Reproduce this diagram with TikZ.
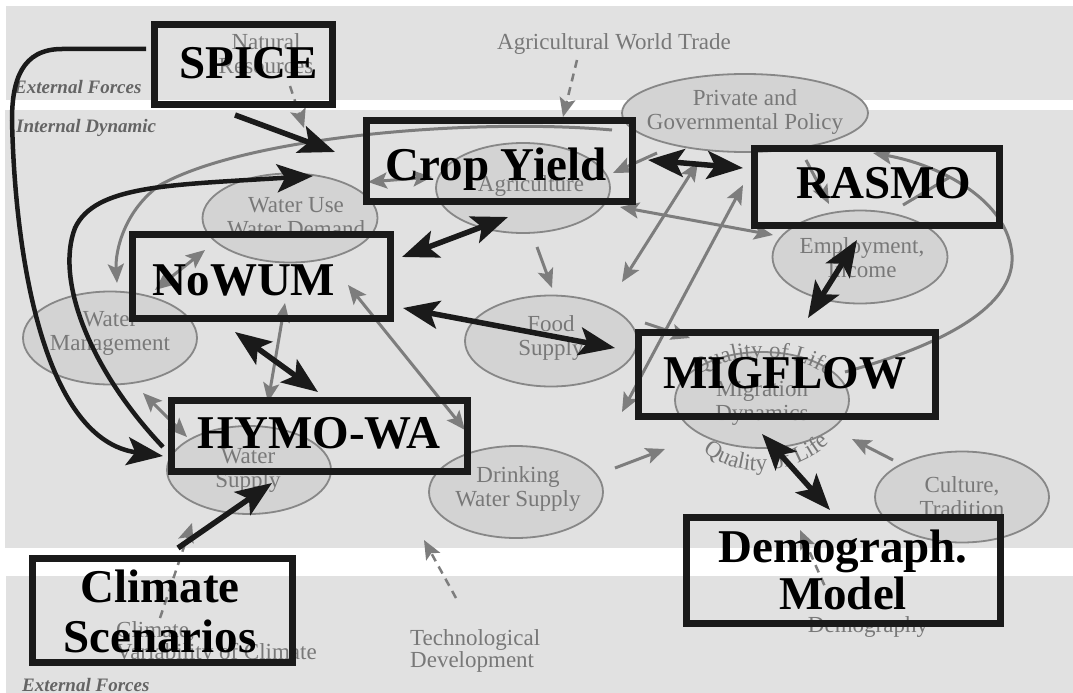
\documentclass[tikz,border=0pt]{standalone}
\usepackage{fontspec}
\setmainfont{Liberation Serif}
\usetikzlibrary{arrows.meta,shapes.geometric,decorations.text}
\definecolor{bandgray}{RGB}{225,225,225}
\definecolor{ellfill}{RGB}{211,211,211}
\definecolor{ellline}{RGB}{135,135,135}
\definecolor{gtxt}{RGB}{120,120,120}
\definecolor{garr}{RGB}{125,125,125}
\definecolor{boxblack}{RGB}{26,26,26}
\definecolor{ilab}{RGB}{100,100,100}
\newcommand\qolfont{\fontsize{23}{24}\selectfont\color{gtxt}}
\begin{document}
\begin{tikzpicture}[x=1pt,y=-1pt,
  ell/.style={ellipse, draw=ellline, fill=ellfill, line width=1.8pt, inner sep=0pt, outer sep=0pt},
  gtext/.style={text=gtxt, font=\fontsize{23}{24}\selectfont, align=center, inner sep=0pt},
  ilabel/.style={text=ilab, font=\bfseries\itshape\fontsize{19}{20}\selectfont, inner sep=0pt},
  model/.style={rectangle, draw=boxblack, line width=7pt, inner sep=0pt, outer sep=0pt},
  title/.style={font=\bfseries\fontsize{47}{50}\selectfont, inner sep=0pt, align=center},
  ghead/.tip={Stealth[length=19pt,width=16pt,inset=4pt]},
  bhead/.tip={Stealth[length=36pt,width=28pt,inset=8pt]},
  gline/.style={draw=garr, line width=3pt},
  bline/.style={draw=boxblack, line width=5.5pt},
  gdash/.style={draw=garr, line width=2.5pt, dash pattern=on 8pt off 6pt}]

\useasboundingbox (0,0) rectangle (1073,693);
\fill[white] (0,0) rectangle (1073,693);
% bands
\fill[bandgray] (6,6) rectangle (1073,100);
\fill[bandgray] (5,110) rectangle (1073,548);
\fill[bandgray] (6,576) rectangle (1073,693);

% band labels
\node[ilabel, anchor=base west] (extTop) at (14,93) {External Forces};
\node[ilabel, anchor=base west] (intDyn) at (16,132) {Internal Dynamic};
\node[ilabel, anchor=base west] (extBot) at (22,691) {External Forces};

% ellipses
\node[ell, minimum width=246pt, minimum height=78pt] (priv) at (745,113) {};
\node[ell, minimum width=174pt, minimum height=90pt] (agri) at (523,188) {};
\node[ell, minimum width=175pt, minimum height=89pt] (wuse) at (290,218) {};
\node[ell, minimum width=174pt, minimum height=93pt] (wman) at (110,338) {};
\node[ell, minimum width=172pt, minimum height=91pt] (food) at (551,341) {};
\node[ell, minimum width=175pt, minimum height=93pt] (empl) at (860,257) {};
\node[ell, minimum width=174pt, minimum height=96pt] (migr) at (762,400) {};
\node[ell, minimum width=164pt, minimum height=88pt] (wsup) at (249,470) {};
\node[ell, minimum width=174pt, minimum height=92pt] (drink) at (516,492) {};
\node[ell, minimum width=174pt, minimum height=91pt] (cult) at (962,497) {};

% ellipse texts
\node[gtext] (privT) at (745,112) {Private and\\Governmental Policy};
\node[gtext] (agriT) at (531,186) {Agriculture};
\node[gtext] (wuseT) at (296,217) {Water Use\\Water Demand};
\node[gtext] (wmanT) at (110,333) {Water\\Management};
\node[gtext] (foodT) at (551,338) {Food\\Supply};
\node[gtext] (emplT) at (862,258) {Employment,\\Income};
\node[gtext] (migrT) at (762,403) {Migration\\Dynamics};
\node[gtext] (wsupT) at (248,470) {Water\\Supply};
\node[gtext] (drinkT) at (518,489) {Drinking\\Water Supply};
\node[gtext] (cultT) at (962,497) {Culture,\\Tradition};

% free texts
\node[gtext] (natT) at (266,54) {Natural\\Resources};
\node[gtext, anchor=base] (tradeT) at (614,50) {Agricultural World Trade};
\node[gtext, align=left, anchor=north west] (climT) at (116,621) {Climate,\\[-2pt]Variability of Climate};
\node[gtext, align=left, anchor=north west] (techT) at (410,629) {Technological\\[-2pt]Development};
\node[gtext, anchor=base] (demoT) at (868,632) {Demography};

% coordinates for gray connectors
\coordinate (g1a) at (368,182); \coordinate (g1b) at (432,177);
\coordinate (g2a) at (657,153); \coordinate (g2b) at (613,173);
\coordinate (g3a) at (612,130); \coordinate (g3b) at (117,283);
\coordinate (g4a) at (155,290); \coordinate (g4b) at (205,250);
\coordinate (g5a) at (285,303); \coordinate (g5b) at (268,402);
\coordinate (g6a) at (143,393); \coordinate (g6b) at (187,437);
\coordinate (g7a) at (348,285); \coordinate (g7b) at (465,430);
\coordinate (g8a) at (537,247); \coordinate (g8b) at (552,288);
\coordinate (g9a) at (698,162); \coordinate (g9b) at (622,282);
\coordinate (g10a) at (622,412); \coordinate (g10b) at (743,185);
\coordinate (g11a) at (620,207); \coordinate (g11b) at (773,235);
\coordinate (g12a) at (645,323); \coordinate (g12b) at (690,338);
\coordinate (g13a) at (615,468); \coordinate (g13b) at (665,449);
\coordinate (g14a) at (893,460); \coordinate (g14b) at (852,439);
\coordinate (g15a) at (806,160); \coordinate (g15b) at (829,204);
\coordinate (g16a) at (845,372); \coordinate (g16b) at (873,153);
\coordinate (g17a) at (903,205); \coordinate (g17b) at (950,177);

% gray connectors
\draw[gline, ghead-ghead] (g1a) -- (g1b);
\draw[gline, -ghead] (g2a) -- (g2b);
\draw[gline, -ghead] (g3a) .. controls (480,118) and (250,135) .. (160,185) .. controls (125,210) and (115,250) .. (g3b);
\draw[gline, ghead-ghead] (g4a) -- (g4b);
\draw[gline, ghead-ghead] (g5a) -- (g5b);
\draw[gline, ghead-ghead] (g6a) -- (g6b);
\draw[gline, ghead-ghead] (g7a) -- (g7b);
\draw[gline, -ghead] (g8a) -- (g8b);
\draw[gline, ghead-ghead] (g9a) -- (g9b);
\draw[gline, ghead-ghead] (g10a) -- (g10b);
\draw[gline, ghead-ghead] (g11a) -- (g11b);
\draw[gline, -ghead] (g12a) -- (g12b);
\draw[gline, -ghead] (g13a) -- (g13b);
\draw[gline, -ghead] (g14a) -- (g14b);
\draw[gline, -ghead] (g15a) -- (g15b);
\draw[gline, -ghead] (g16a) .. controls (960,340) and (1015,300) .. (1012,255) .. controls (1008,200) and (940,165) .. (g16b);
\draw[gline] (g17a) -- (g17b);

% dashed gray arrows
\coordinate (d1a) at (290,86); \coordinate (d1b) at (304,128);
\coordinate (d2a) at (577,60); \coordinate (d2b) at (563,117);
\coordinate (d3a) at (456,598); \coordinate (d3b) at (424,540);
\coordinate (d4a) at (160,618); \coordinate (d4b) at (192,523);
\coordinate (d5a) at (830,598); \coordinate (d5b) at (800,530);
\draw[gdash, -ghead] (natT) ++(24,32) -- (d1b);
\draw[gdash, -ghead] (d2a) -- (d2b);
\draw[gdash, -ghead] (d3a) -- (d3b);
\draw[gdash, -ghead] (d4a) -- (d4b);
\draw[gdash, -ghead] (d5a) -- (d5b);

% Quality of Life
\path[decorate, decoration={text along path, text align=center, text={|\qolfont|Quality of Life}}]
  (684,390) .. controls (715,346) and (810,346) .. (842,390);
\path[decorate, decoration={text along path, text align=center, text={|\qolfont|Quality of Life}}]
  (692,440) .. controls (725,482) and (800,482) .. (840,432);

% model boxes
\node[model, minimum width=178pt, minimum height=80pt] (spice) at (243.5,64.5) {};
\node[model, minimum width=266pt, minimum height=81pt] (crop) at (499.5,161) {};
\node[model, minimum width=245pt, minimum height=77pt] (rasmo) at (877,187) {};
\node[model, minimum width=258pt, minimum height=84pt] (nowum) at (261.5,276.5) {};
\node[model, minimum width=297pt, minimum height=84pt] (migflow) at (787,374.5) {};
\node[model, minimum width=296pt, minimum height=71pt] (hymo) at (319.5,436) {};
\node[model, minimum width=260pt, minimum height=104pt] (climsc) at (162.5,610.5) {};
\node[model, minimum width=314pt, minimum height=106pt] (demog) at (843.5,570.5) {};

% black connectors
\coordinate (b1a) at (235,115); \coordinate (b1b) at (335,152);
\coordinate (b2a) at (146,49); \coordinate (b2b) at (163,456);
\coordinate (b3a) at (163,447); \coordinate (b3b) at (313,176);
\coordinate (b4a) at (648,160); \coordinate (b4b) at (743,168);
\coordinate (b5a) at (402,257); \coordinate (b5b) at (508,217);
\coordinate (b6a) at (403,308); \coordinate (b6b) at (615,348);
\coordinate (b7a) at (235,332); \coordinate (b7b) at (318,392);
\coordinate (b8a) at (857,240); \coordinate (b8b) at (808,318);
\coordinate (b9a) at (762,434); \coordinate (b9b) at (830,510);
\coordinate (b10a) at (178,548); \coordinate (b10b) at (272,483);

\draw[bline, -bhead] (b1a) -- (b1b);
\draw[bline, line width=4.5pt, -bhead] (b2a) -- (62,49) .. controls (22,49) and (12,80) .. (12,120) .. controls (15,260) and (45,440) .. (b2b);
\draw[bline, line width=4.5pt, -bhead] (b3a) .. controls (90,370) and (55,280) .. (75,228) .. controls (95,185) and (170,185) .. (b3b);
\draw[bline, bhead-bhead] (b4a) -- (b4b);
\draw[bline, bhead-bhead] (b5a) -- (b5b);
\draw[bline, bhead-bhead] (b6a) -- (b6b);
\draw[bline, bhead-bhead] (b7a) -- (b7b);
\draw[bline, bhead-bhead] (b8a) -- (b8b);
\draw[bline, bhead-bhead] (b9a) -- (b9b);
\draw[bline, -bhead] (b10a) -- (b10b);

% titles
\node[title, anchor=base] (spiceT) at (249,78) {SPICE};
\node[title, anchor=base] (cropT) at (496,180) {Crop Yield};
\node[title, anchor=base] (rasmoT) at (884,198) {RASMO};
\node[title, anchor=base] (nowumT) at (244,295) {NoWUM};
\node[title, anchor=base] (migT) at (785,388) {MIGFLOW};
\node[title, anchor=base] (hymoT) at (319,448) {HYMO-WA};
\node[title] (climscT) at (160,611) {Climate\\Scenarios};
\node[title, font=\bfseries\fontsize{47}{47}\selectfont] (demogT) at (843,570) {Demograph.\\Model};
\end{tikzpicture}
\end{document}
